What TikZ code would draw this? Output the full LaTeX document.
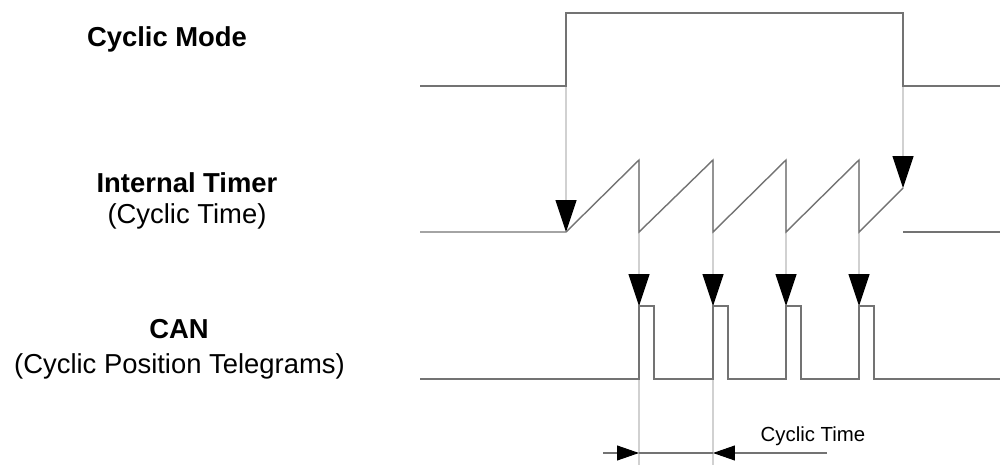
\documentclass[tikz,border=0pt]{standalone}
\usepackage{fontspec}
\setmainfont{Liberation Sans}
\usetikzlibrary{arrows.meta}
\begin{document}
\begin{tikzpicture}[x=0.02cm,y=-0.02cm,
  sig/.style={draw=black!55,line width=0.8pt,line join=miter},
  guide/.style={draw=black!18,line width=0.6pt},
  trig/.style={guide,-{Triangle[width=11.9pt,length=18.1pt,color=black]}},
  dimarr/.style={draw=black!55,line width=0.6pt,-{Triangle[width=8.5pt,length=12.5pt,color=black]}},
  lab/.style={font=\fontsize{15.6pt}{18pt}\selectfont\bfseries,anchor=base,inner sep=0pt},
  sub/.style={font=\fontsize{15.6pt}{18pt}\selectfont,anchor=base,inner sep=0pt},
  small/.style={font=\fontsize{11.6pt}{14pt}\selectfont,anchor=base,inner sep=0pt}]
\useasboundingbox (0,0) rectangle (1000,465);
% labels
\node[lab] (lmode) at (167,47) {Cyclic Mode};
\node[lab] (ltimer) at (187,192.5) {Internal Timer};
\node[sub] (ltimersub) at (187,223.5) {(Cyclic Time)};
\node[lab] (lcan) at (179,339) {CAN};
\node[sub] (lcansub) at (179.5,373.5) {(Cyclic Position Telegrams)};
\node[small] (lct) at (813,441) {Cyclic Time};
% coordinates
\coordinate (m0) at (420,86);
\coordinate (m1) at (566,86);
\coordinate (m2) at (566,13);
\coordinate (m3) at (903,13);
\coordinate (m4) at (903,86);
\coordinate (m5) at (1000,86);
\coordinate (t0) at (420,232);
\coordinate (t1) at (566,232);
\coordinate (p1) at (639,160);
\coordinate (b1) at (639,232);
\coordinate (p2) at (713,160);
\coordinate (b2) at (713,232);
\coordinate (p3) at (786,160);
\coordinate (b3) at (786,232);
\coordinate (p4) at (859,160);
\coordinate (b4) at (859,232);
\coordinate (tend) at (903,188);
\coordinate (t5) at (903,232);
\coordinate (t6) at (1000,232);
\foreach \i/\x in {1/639,2/713,3/786,4/859}{
  \coordinate (cu\i) at (\x,379);
  \coordinate (ct\i) at (\x,306);
  \coordinate (cr\i) at (\x+15,306);
  \coordinate (cd\i) at (\x+15,379);
}
\coordinate (c0) at (420,379);
\coordinate (c9) at (1000,379);
\coordinate (g1) at (639,465);
\coordinate (g2) at (713,465);
\coordinate (d0) at (603,453);
\coordinate (d1) at (639,453);
\coordinate (d2) at (713,453);
\coordinate (d3) at (827,453);
% guide lines
\draw[guide] (b1) -- (g1);
\draw[guide] (b2) -- (g2);
\draw[trig] (m2) -- (t1);
\draw[trig] (m3) -- (tend);
\draw[trig] (p1) -- (ct1);
\draw[trig] (p2) -- (ct2);
\draw[trig] (p3) -- (ct3);
\draw[trig] (p4) -- (ct4);
% signals
\draw[sig] (m0) -- (m1) -- (m2) -- (m3) -- (m4) -- (m5);
\draw[sig] (t0) -- (t1) -- (p1) -- (b1) -- (p2) -- (b2) -- (p3) -- (b3) -- (p4) -- (b4) -- (tend);
\draw[sig] (t5) -- (t6);
\draw[sig] (c0) -- (cu1) -- (ct1) -- (cr1) -- (cd1) -- (cu2) -- (ct2) -- (cr2) -- (cd2) -- (cu3) -- (ct3) -- (cr3) -- (cd3) -- (cu4) -- (ct4) -- (cr4) -- (cd4) -- (c9);
% dimension
\draw[dimarr] (d0) -- (d1);
\draw[dimarr] (d3) -- (d2);
\draw[draw=black!55,line width=0.6pt] (d1) -- (d2);
\end{tikzpicture}
\end{document}
